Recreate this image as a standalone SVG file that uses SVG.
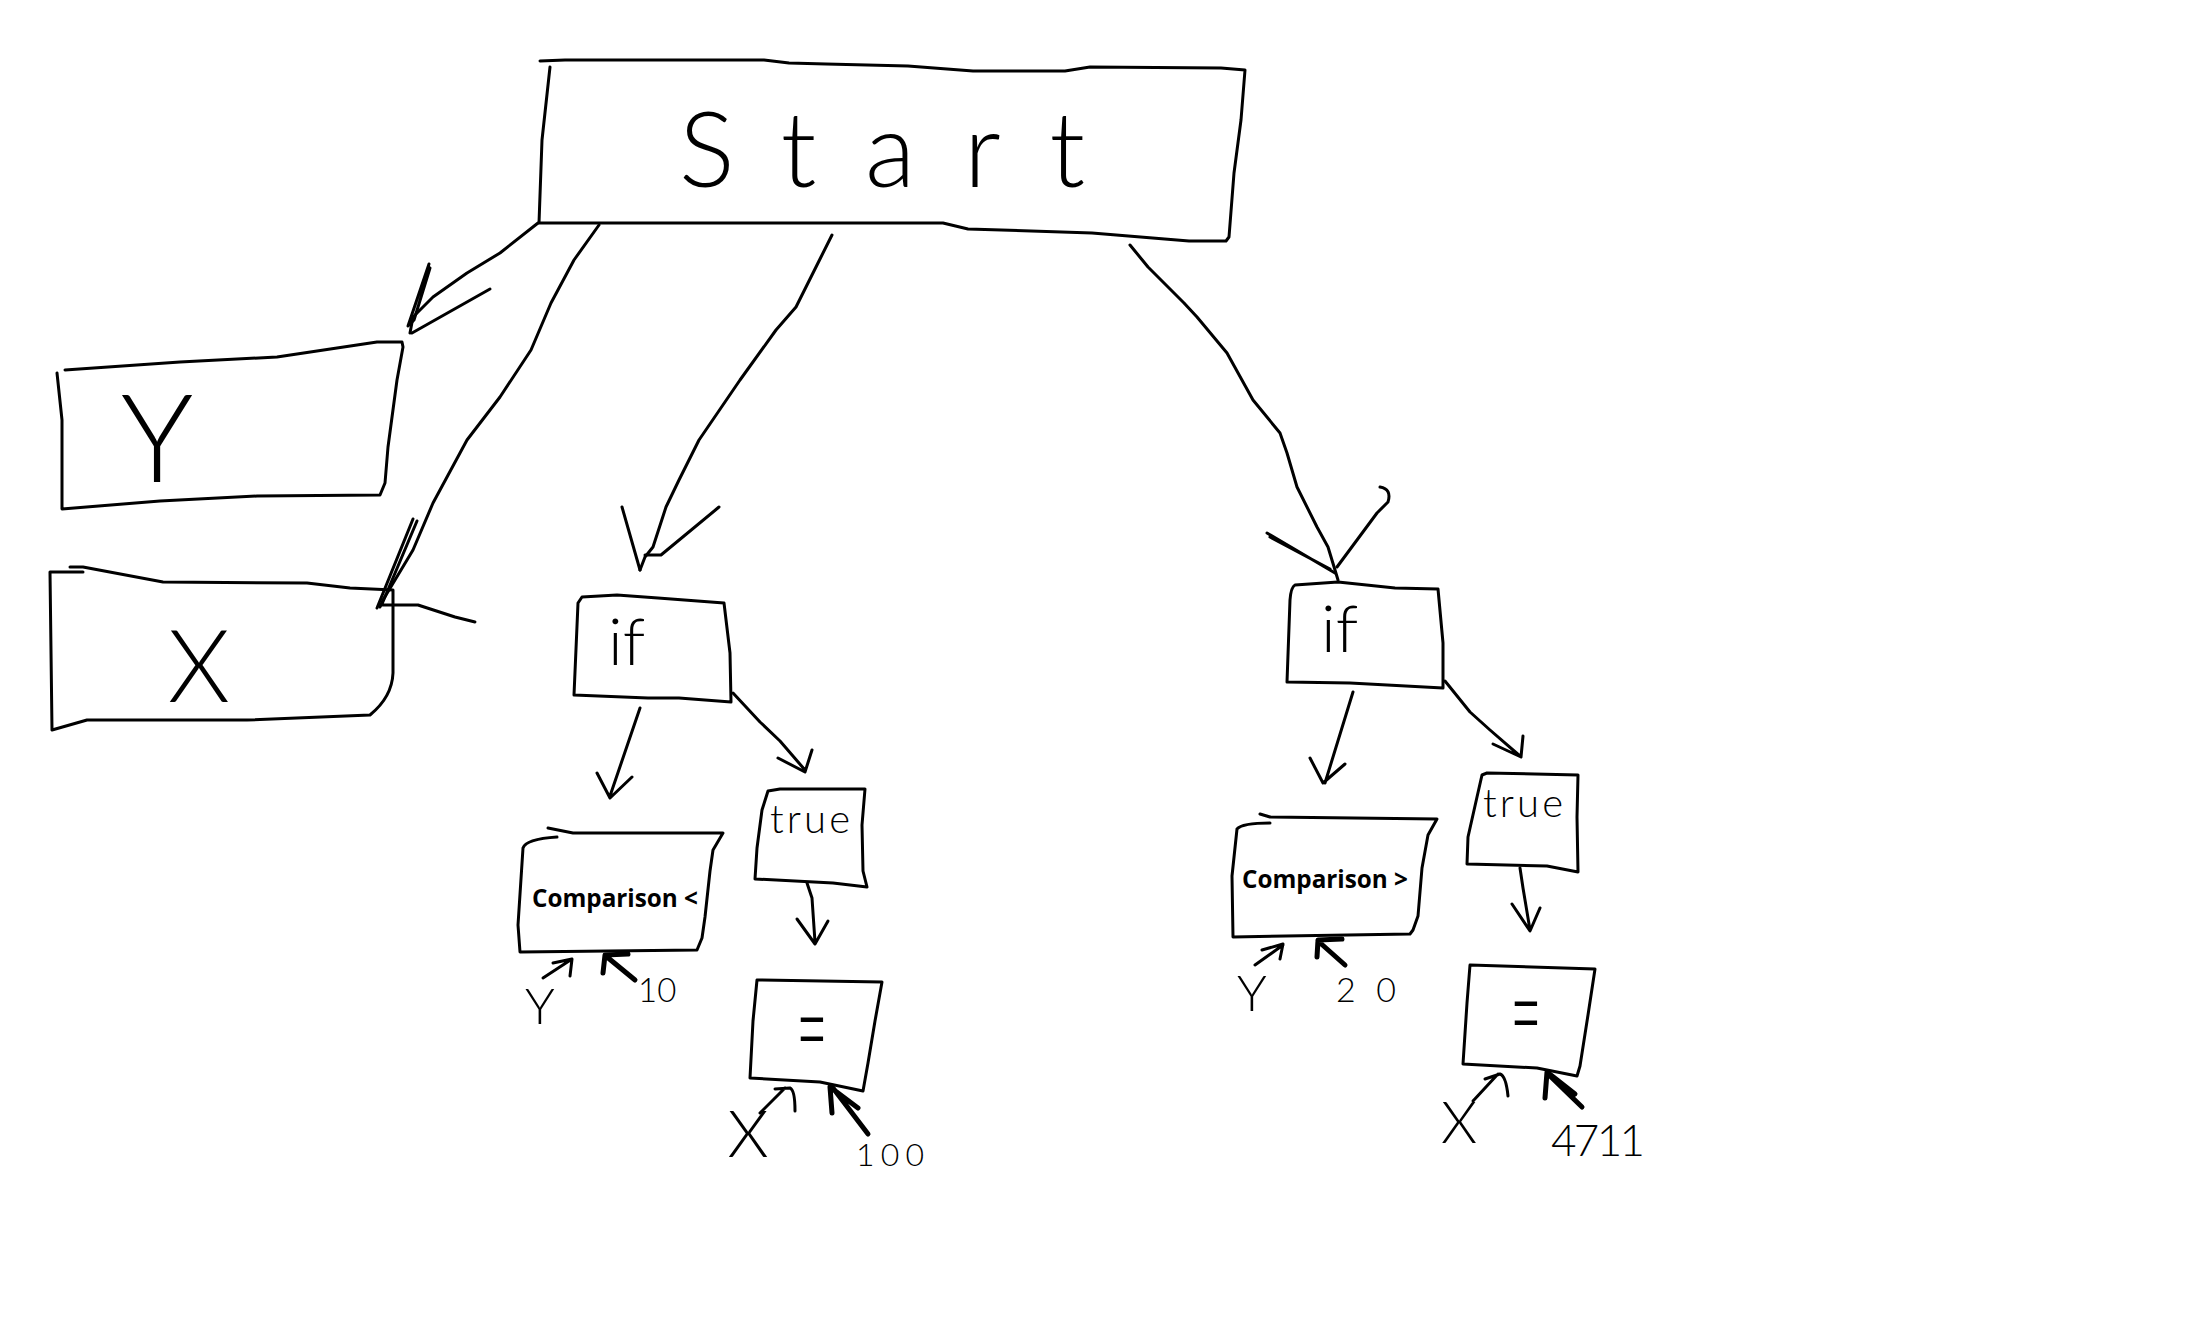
<svg xmlns="http://www.w3.org/2000/svg" width="2212" height="1332" viewBox="0 0 2212 1332">
<style>
.ln{fill:none;stroke:#000;stroke-width:3;stroke-linecap:round;stroke-linejoin:round}
.thk{fill:none;stroke:#000;stroke-width:5;stroke-linecap:round;stroke-linejoin:round}
.hw{font-family:Lato,"Open Sans","DejaVu Sans",sans-serif;font-weight:300;fill:#000}
.cmp{font-family:"Open Sans","Noto Sans",sans-serif;font-weight:700;font-size:25px;fill:#000}
</style>
<rect width="2212" height="1332" fill="#fff"/>
<g id="connectors">
  <path class="ln" d="M538,223 L500,253 L467,273 L433,297 L413,317 L410,333"/>
  <path class="ln" d="M429,264 L408,326 L414,320 L430,268 M490,289 L412,333"/>
  <path class="ln" d="M599,225 L574,260 L551,303 L531,350 L500,397 L467,440 L433,503 L413,550 L383,600 L380,607"/>
  <path class="ln" d="M413,519 L377,608 M417,521 L382,604 M380,605 L418,605 L455,617 L475,622"/>
  <path class="ln" d="M832,235 L821,257 L796,307 L776,330 L740,380 L699,440 L679,480 L666,507 L653,547 L645,557 L640,570"/>
  <path class="ln" d="M622,507 L640,570 M719,507 L661,555 L645,555"/>
  <path class="ln" d="M1130,245 L1148,267 L1184,303 L1197,317 L1227,353 L1253,400 L1280,433 L1287,453 L1297,487 L1317,527 L1328,547 L1335,570 L1338,580"/>
  <path class="ln" d="M1267,533 L1335,573 M1270,537 L1330,569 M1380,487 Q1392,489 1388,502 L1377,513 L1357,540 L1337,567"/>
  <path class="ln" d="M640,708 L610,796 M597,773 L610,798 L632,777"/>
  <path class="ln" d="M733,693 L760,722 L780,741 L805,770 M778,758 L805,772 L812,750"/>
  <path class="ln" d="M807,883 L812,898 L815,942 M797,919 L815,944 L828,921"/>
  <path class="ln" d="M543,978 L572,959 M553,963 L572,959 L570,976"/>
  <path class="thk" d="M635,980 L607,957 M603,973 L605,955 L628,954"/>
  <path class="ln" d="M760,1113 L785,1088 M775,1089 L790,1088 Q795,1090 795,1111"/>
  <path class="thk" d="M868,1134 L833,1088 M832,1113 L830,1087 L858,1108"/>
  <path class="ln" d="M1353,692 L1325,783 M1310,758 L1323,783 L1345,764"/>
  <path class="ln" d="M1445,681 L1470,712 L1490,730 L1520,756 M1493,744 L1521,757 L1523,736"/>
  <path class="ln" d="M1520,868 L1523,888 L1530,930 M1512,904 L1530,931 L1540,908"/>
  <path class="ln" d="M1255,965 L1283,945 M1262,950 L1283,944 L1280,959"/>
  <path class="thk" d="M1345,965 L1318,941 M1317,957 L1318,940 L1342,939"/>
  <path class="ln" d="M1473,1101 L1498,1074 M1485,1079 L1500,1074 Q1506,1076 1508,1096"/>
  <path class="thk" d="M1582,1107 L1548,1074 M1545,1098 L1547,1072 L1575,1094"/>
</g>
<g id="node-start">
  <path class="ln" d="M540,61 L565,60 L764,60 L789,63 L826,64 L908,66 L973,71 L1065,71 L1090,67 L1221,68 L1245,70 L1241,120 L1234,173 L1229,237 L1226,241 L1189,241 L1092,233 L968,229 L943,223 L539,223 L542,140 L550,67"/>
  <text class="hw" x="679" y="187" font-size="104" textLength="406" lengthAdjust="spacing">Start</text>
</g>
<g id="node-y">
  <path class="ln" d="M65,370 L180,362 L277,357 L377,342 L402,342 L403,347 L397,380 L388,447 L385,483 L380,495 L257,496 L160,501 L62,509 L62,420 L57,373"/>
  <text class="hw" x="157" y="482" font-size="122" text-anchor="middle">Y</text>
</g>
<g id="node-x">
  <path class="ln" d="M70,567 L83,567 L163,582 L307,583 L350,588 L393,590 L393,673 Q392,697 370,715 L247,720 L87,720 L52,730 L50,572 L83,572"/>
  <text class="hw" x="199" y="702" font-size="100" text-anchor="middle">X</text>
</g>
<g id="node-if1">
  <path class="ln" d="M582,597 L617,595 L658,598 L724,603 L730,653 L731,702 L679,698 L648,698 L574,695 L578,603 Z"/>
  <text class="hw" x="608" y="665" font-size="66">if</text>
</g>
<g id="node-cmp1">
  <path class="ln" d="M548,828 L573,833 L723,833 L713,850 L710,871 L705,917 L702,938 L697,950 L520,952 L518,925 L523,848 Q526,839 557,837"/>
  <text class="cmp" x="532" y="907" textLength="166" lengthAdjust="spacingAndGlyphs">Comparison &lt;</text>
</g>
<g id="node-true1">
  <path class="ln" d="M768,791 L780,789 L865,789 L862,825 L863,871 L867,887 L833,883 L755,879 L757,848 L762,810 Z"/>
  <text class="hw" x="770" y="833" font-size="40" textLength="80" lengthAdjust="spacing">true</text>
</g>
<g id="node-assign1">
  <path class="ln" d="M757,980 L882,982 L875,1021 L868,1063 L863,1091 L820,1082 L750,1078 L753,1021 Z"/>
  <text class="hw" x="0" y="0" font-size="120" text-anchor="middle" transform="translate(812,1070) scale(0.45,1)">=</text>
</g>
<g id="node-y1">
  <text class="hw" x="540" y="1024" font-size="50" text-anchor="middle">Y</text>
</g>
<g id="node-10">
  <text class="hw" x="638" y="1002" font-size="33">10</text>
</g>
<g id="node-x1">
  <text class="hw" x="748" y="1157" font-size="66" text-anchor="middle">X</text>
</g>
<g id="node-100">
  <text class="hw" x="856" y="1166" font-size="32" textLength="68" lengthAdjust="spacing">100</text>
</g>
<g id="node-if2">
  <path class="ln" d="M1295,585 L1338,582 L1395,588 L1438,589 L1443,643 L1443,688 L1350,683 L1287,682 L1290,600 Q1291,587 1295,585"/>
  <text class="hw" x="1321" y="652" font-size="66">if</text>
</g>
<g id="node-cmp2">
  <path class="ln" d="M1260,814 L1270,817 L1437,819 L1428,835 L1422,868 L1418,916 L1413,930 L1410,934 L1233,937 L1232,876 L1237,829 Q1242,823 1270,823"/>
  <text class="cmp" x="1242" y="888" textLength="166" lengthAdjust="spacingAndGlyphs">Comparison &gt;</text>
</g>
<g id="node-true2">
  <path class="ln" d="M1482,775 L1487,773 L1578,775 L1577,817 L1578,872 L1547,866 L1467,864 L1468,837 L1477,797 Z"/>
  <text class="hw" x="1483" y="817" font-size="40" textLength="80" lengthAdjust="spacing">true</text>
</g>
<g id="node-assign2">
  <path class="ln" d="M1470,965 L1595,969 L1588,1015 L1580,1066 L1577,1076 L1537,1068 L1463,1064 L1467,1003 Z"/>
  <text class="hw" x="0" y="0" font-size="120" text-anchor="middle" transform="translate(1526,1054) scale(0.45,1)">=</text>
</g>
<g id="node-y2">
  <text class="hw" x="1252" y="1011" font-size="50" text-anchor="middle">Y</text>
</g>
<g id="node-20">
  <text class="hw" x="1336" y="1002" font-size="34" textLength="60" lengthAdjust="spacing">20</text>
</g>
<g id="node-x2">
  <text class="hw" x="1459" y="1143" font-size="58" text-anchor="middle">X</text>
</g>
<g id="node-4711">
  <text class="hw" x="1551" y="1156" font-size="44" textLength="94" lengthAdjust="spacing">4711</text>
</g>
</svg>
